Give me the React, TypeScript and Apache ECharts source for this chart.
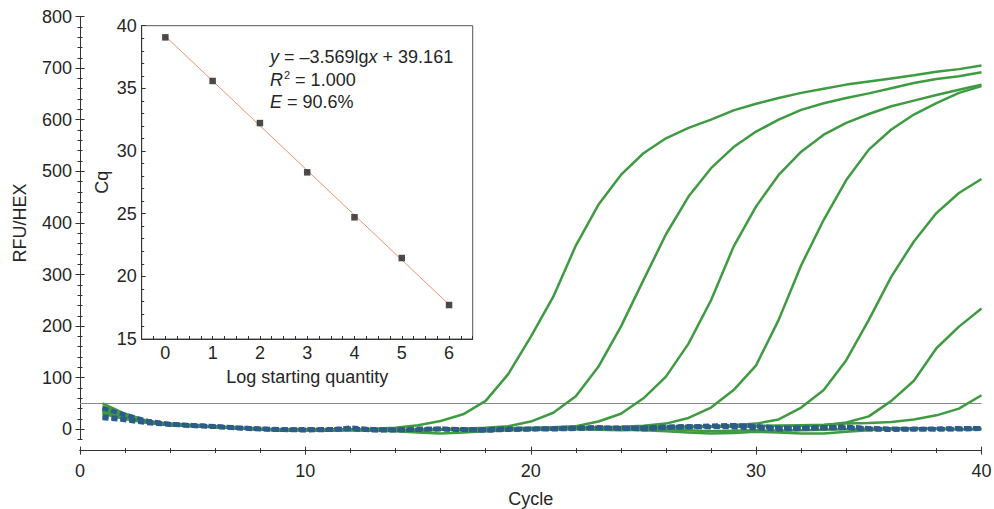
import React, { useEffect, useRef } from "react";
import * as echarts from "echarts";

// ---------- data ----------
const cycles = [1, 2, 3, 4, 5, 6, 7, 8, 9, 10, 11, 12, 13, 14, 15, 16, 17, 18, 19, 20,
  21, 22, 23, 24, 25, 26, 27, 28, 29, 30, 31, 32, 33, 34, 35, 36, 37, 38, 39, 40];

const amp1 = [50, 30, 16, 10, 8, 5, 2, 0, -2, 0, -1, 0, 1, 3, 8, 16, 29, 55, 107, 179,
  257, 356, 435, 493, 535, 564, 584, 600, 618, 631, 642, 652, 660, 668, 674, 680, 686, 693, 698, 705];
const amp2 = [35, 24, 14, 9, 7, 5, 3, 0, -2, -1, -2, -1, -2, -3, -1, 0, 1, 3, 6, 15,
  32, 64, 121, 199, 289, 378, 451, 506, 547, 577, 600, 619, 632, 642, 651, 661, 671, 679, 684, 692];
const amp3 = [40, 26, 15, 9, 7, 5, 2, 0, -2, -1, -3, -1, -2, -3, -2, -1, 0, 1, 2, 3,
  4, 6, 15, 30, 60, 102, 166, 250, 354, 432, 493, 538, 571, 594, 611, 626, 637, 648, 658, 668];
const amp4 = [45, 28, 15, 10, 7, 4, 2, -1, -3, -1, -2, 0, -2, -3, -2, -1, 0, 0, 1, 2,
  2, 3, 4, 5, 7, 11, 22, 42, 76, 124, 212, 318, 406, 483, 542, 581, 610, 632, 652, 665];
const amp5 = [38, 25, 14, 9, 7, 5, 2, 0, -2, -1, -2, -1, -2, -3, -2, -1, 0, -1, 0, 1,
  0, 1, 2, 3, 4, 4, 5, 6, 8, 11, 19, 42, 76, 134, 212, 296, 364, 419, 458, 485];
const amp6 = [42, 27, 15, 10, 8, 5, 3, 0, -2, 0, -1, 0, -1, -2, -1, 0, 0, 1, 1, 2,
  2, 3, 3, 4, 4, 5, 5, 6, 6, 6, 7, 7, 8, 13, 25, 55, 94, 157, 199, 234];
const amp7 = [36, 24, 13, 9, 7, 5, 2, 0, -2, -1, -2, -1, -2, -2, -1, 0, 0, 0, 1, 0,
  1, 2, 2, 3, 3, 4, 4, 5, 5, 6, 7, 8, 9, 11, 12, 14, 19, 27, 40, 66];
const negGreen1 = [30, 20, 12, 8, 6, 4, 2, 0, -2, -1, -2, -2, -3, -4, -6, -8, -6, -4, -2, -1,
  0, 1, 1, 0, -2, -4, -6, -8, -7, -5, -6, -8, -8, -5, -2, 0, 1, 1, 0, 0];
const negGreen2 = [33, 22, 13, 8, 6, 5, 3, 1, -1, 0, -1, 0, -1, -2, -1, 0, -1, -2, -1, 0,
  1, 0, -1, -2, -1, 0, -2, -4, -3, -2, -3, -2, -1, 0, 1, 2, 2, 1, 0, 1];
const blue1 = [41, 28, 16, 10, 8, 6, 3, 1, -1, 0, -1, 3, 0, -1, -1, 1, 0, -2, -1, 0,
  1, 2, 3, 3, 2, 4, 5, 7, 8, 6, 3, 2, 3, 5, 2, 1, 0, 1, 2, 2];
const blue2 = [22, 18, 12, 9, 7, 5, 3, 1, 0, -1, 0, 1, -1, -2, 0, 1, -1, 0, 1, 0,
  2, 3, 4, 1, 3, 5, 6, 4, 7, 5, 1, 3, 4, 3, 1, 0, 1, 0, 1, 2];
const blue3 = [25, 20, 14, 10, 7, 5, 2, 0, -1, -2, -1, 1, -2, -1, 1, 0, -1, -2, 0, 1,
  0, 1, 2, 2, 0, 3, 4, 5, 4, 2, 0, 1, 2, 3, 0, -1, 0, 0, 0, 1];

const thresholdValue = 50;
const thresholdCycles = [0, 40];

// inset: standard curve
const logQty = [0, 1, 2, 3, 4, 5, 6];
const cqValues = [39.07, 35.59, 32.23, 28.3, 24.71, 21.46, 17.71];
const fitX = [0, 6];
const fitY = [39.161, 17.747];

const equationLines = [
  "{i|y} = –3.569lg{i|x} + 39.161",
  "{i|R}{s|2} = 1.000",
  "{i|E} = 90.6%",
];

// ---------- styles ----------
const FONT = "'Liberation Sans', Arial, Helvetica, sans-serif";
const TXT = "#262626";
const AX = "#333333";
const GREEN = "#3f9b41";
const BLUE = "#2d5b8a";

const pairs = (ys: number[]) => cycles.map((c, i) => [c, ys[i]]);

function buildOption() {
  const mkLine = (show: boolean) => ({ show, onZero: false, lineStyle: { color: AX, width: 1 } });
  const tickStyle = { color: AX, width: 1 };
  const nameStyle = { fontSize: 18, color: TXT, fontFamily: FONT };

  const mainX = (inside: boolean, withLabel: boolean) => ({
    type: "value",
    gridIndex: 0,
    position: "bottom",
    offset: 11,
    min: 0,
    max: 40,
    interval: 10,
    axisLine: mkLine(true),
    axisTick: { show: true, inside, length: 4, lineStyle: tickStyle },
    minorTick: { show: true, splitNumber: 5, length: 2.5, lineStyle: tickStyle },
    axisLabel: { show: withLabel, margin: 11, fontSize: 18, color: TXT, fontFamily: FONT },
    splitLine: { show: false },
    minorSplitLine: { show: false },
    name: withLabel ? "Cycle" : "",
    nameLocation: "middle",
    nameGap: 39,
    nameTextStyle: nameStyle,
  });
  const minorY = (inside: boolean) => ({
    type: "value",
    gridIndex: 0,
    position: "left",
    min: -20,
    max: 800,
    interval: 20,
    axisLine: mkLine(!inside),
    axisTick: { show: true, inside, length: 2.5, lineStyle: tickStyle },
    axisLabel: { show: false },
    splitLine: { show: false },
  });
  const majorY = (inside: boolean, withLabel: boolean) => ({
    type: "value",
    gridIndex: 2,
    position: "left",
    min: 0,
    max: 800,
    interval: 100,
    axisLine: mkLine(false),
    axisTick: { show: true, inside, length: 4.5, lineStyle: tickStyle },
    axisLabel: { show: withLabel, margin: 8, fontSize: 18, color: TXT, fontFamily: FONT },
    splitLine: { show: false },
    name: withLabel ? "RFU/HEX" : "",
    nameLocation: "middle",
    nameGap: 51,
    nameTextStyle: nameStyle,
  });

  const greenSeries = [amp1, amp2, amp3, amp4, amp5, amp6, amp7, negGreen1, negGreen2].map((d) => ({
    type: "line",
    xAxisIndex: 0,
    yAxisIndex: 0,
    data: pairs(d),
    symbol: "none",
    silent: true,
    z: 3,
    lineStyle: { color: GREEN, width: 2.5 },
  }));
  const blueSeries = [blue1, blue2, blue3].map((d) => ({
    type: "line",
    xAxisIndex: 0,
    yAxisIndex: 0,
    data: pairs(d),
    symbol: "none",
    silent: true,
    z: 4,
    lineStyle: { color: BLUE, width: 4.5, type: [6, 3] },
  }));

  return {
    animation: false,
    textStyle: { fontFamily: FONT },
    grid: [
      { left: 80, right: 12.5, top: 16.5, bottom: 69.4, containLabel: false, outerBoundsMode: "none" },
      {
        left: 141.7,
        right: 521.3,
        top: 25.7,
        bottom: 170,
        containLabel: false,
        outerBoundsMode: "none",
        show: true,
        borderColor: "#555",
        borderWidth: 1,
        backgroundColor: "#ffffff",
      },
      { left: 80, right: 12.5, top: 16.5, bottom: 79.7, containLabel: false, outerBoundsMode: "none" },
    ],
    xAxis: [
      mainX(false, true),
      mainX(true, false),
      {
        type: "value",
        gridIndex: 1,
        position: "bottom",
        min: -0.5,
        max: 6.5,
        interval: 0.25,
        axisLine: mkLine(true),
        axisTick: { show: true, inside: true, length: 3, lineStyle: tickStyle },
        axisLabel: {
          margin: 5,
          fontSize: 18,
          color: TXT,
          fontFamily: FONT,
          formatter: (v: number) => (Math.abs(v - Math.round(v)) < 1e-6 ? String(Math.round(v)) : ""),
        },
        splitLine: { show: false },
        name: "Log starting quantity",
        nameLocation: "middle",
        nameGap: 29,
        nameTextStyle: nameStyle,
      },
      { type: "value", gridIndex: 2, min: 0, max: 40, show: false },
    ],
    yAxis: [
      minorY(false),
      minorY(true),
      {
        type: "value",
        gridIndex: 1,
        position: "left",
        min: 15,
        max: 40,
        interval: 5,
        axisLine: mkLine(true),
        axisTick: { show: true, inside: true, length: 4, lineStyle: tickStyle },
        minorTick: { show: true, splitNumber: 5, length: 2.5, lineStyle: tickStyle },
        axisLabel: { margin: 5, fontSize: 18, color: TXT, fontFamily: FONT },
        splitLine: { show: false },
        minorSplitLine: { show: false },
        name: "Cq",
        nameLocation: "middle",
        nameGap: 31,
        nameTextStyle: nameStyle,
      },
      majorY(false, true),
      majorY(true, false),
    ],
    series: [
      {
        type: "line",
        xAxisIndex: 0,
        yAxisIndex: 0,
        data: thresholdCycles.map((c) => [c, thresholdValue]),
        symbol: "none",
        silent: true,
        z: 2,
        lineStyle: { color: "#8a8a8a", width: 1.2 },
      },
      ...greenSeries,
      ...blueSeries,
      {
        type: "scatter",
        xAxisIndex: 2,
        yAxisIndex: 2,
        data: logQty.map((x, i) => [x, cqValues[i]]),
        symbol: "rect",
        symbolSize: 6.5,
        silent: true,
        z: 6,
        itemStyle: { color: "#1e1e1e" },
        markLine: {
          silent: true,
          symbol: ["none", "none"],
          label: { show: false },
          lineStyle: { color: "#f3916f", width: 1, type: "solid" },
          data: [[{ coord: [fitX[0], fitY[0]] }, { coord: [fitX[1], fitY[1]] }]],
        },
      },
    ],
    graphic: equationLines.map((t, i) => ({
      type: "text",
      x: 270,
      y: 57 + i * 22.5,
      z: 100,
      style: {
        text: t,
        fontSize: 18,
        fontFamily: FONT,
        fill: TXT,
        verticalAlign: "middle",
        align: "left",
        rich: {
          i: { fontStyle: "italic", fontSize: 18, fontFamily: FONT, fill: TXT },
          s: { fontSize: 11, fontFamily: FONT, fill: TXT, padding: [0, 0, 9, 1] },
        },
      },
    })),
  };
}

export default function App() {
  const ref = useRef<HTMLDivElement>(null);
  useEffect(() => {
    if (!ref.current) return;
    const chart = echarts.init(ref.current, undefined, { renderer: "svg" });
    chart.setOption(buildOption() as any);
    return () => chart.dispose();
  }, []);

  return (
    <div
      style={{ position: "fixed", left: 0, top: 0, width: 994, height: 509, overflow: "hidden", background: "#fff" }}
    >
      <div ref={ref} style={{ width: 994, height: 509 }} />
    </div>
  );
}
